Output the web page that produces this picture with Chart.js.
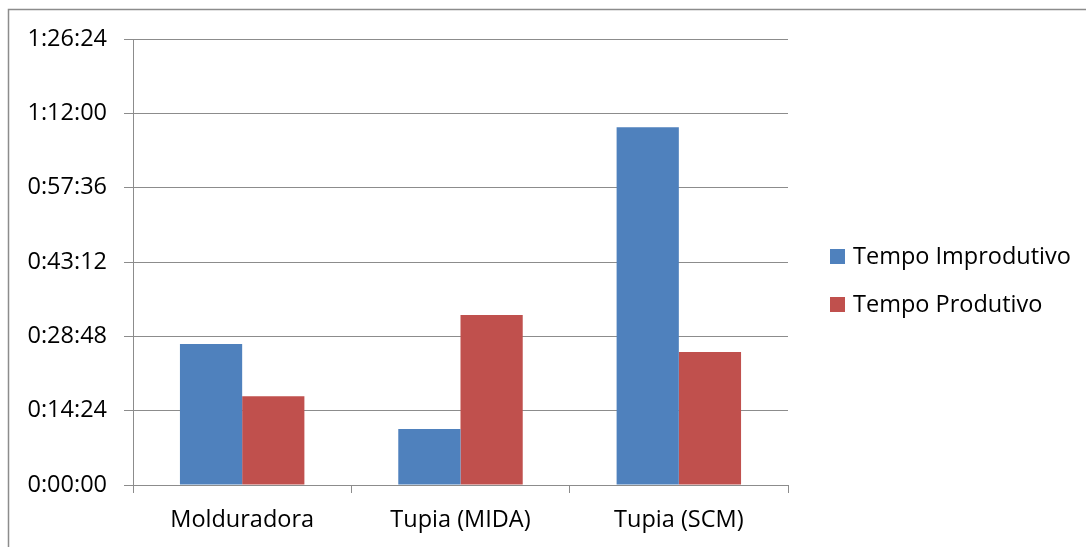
<!DOCTYPE html>
<html>
<head>
<meta charset="utf-8">
<style>
  html, body { margin: 0; padding: 0; background: #fff; }
  #wrap { width: 1086px; height: 547px; position: relative; }
</style>
<script src="https://cdn.jsdelivr.net/npm/chart.js@4/dist/chart.umd.min.js"></script>
</head>
<body>
<div id="wrap"><canvas id="c" width="1086" height="547"></canvas></div>
<script>
// Machines compared
const categories = ['Molduradora', 'Tupia (MIDA)', 'Tupia (SCM)'];
// Durations in seconds
const tempoImprodutivo = [1640, 651, 4158];
const tempoProdutivo = [1031, 1976, 1546];
const seriesNames = ['Tempo Improdutivo', 'Tempo Produtivo'];
// Axis: 0:00:00 to 1:26:24 in steps of 0:14:24
const yMax = 5184;
const yStep = 864;

const FONT = '"Open Sans", Lato, "DejaVu Sans", sans-serif';
const FONT_SIZE = 23.5;

function hms(sec) {
  const h = Math.floor(sec / 3600);
  const m = Math.floor((sec % 3600) / 60);
  const s = Math.round(sec % 60);
  return h + ':' + String(m).padStart(2, '0') + ':' + String(s).padStart(2, '0');
}

// Outer frame around the chart
const framePlugin = {
  id: 'frame',
  beforeDraw(chart) {
    const ctx = chart.ctx;
    ctx.save();
    ctx.fillStyle = '#fff';
    ctx.fillRect(0, 0, chart.width, chart.height);
    ctx.strokeStyle = '#8c8c8c';
    ctx.lineWidth = 1.5;
    ctx.strokeRect(8.5, 9.5, 1200, 1200);
    ctx.restore();
  }
};

// Legend drawn at the right of the plot
const sideLegend = {
  id: 'sideLegend',
  afterDraw(chart) {
    const ctx = chart.ctx;
    ctx.save();
    ctx.font = FONT_SIZE + 'px ' + FONT;
    ctx.textBaseline = 'middle';
    chart.data.datasets.forEach((ds, i) => {
      const y = 256 + i * 48;
      ctx.fillStyle = ds.backgroundColor;
      ctx.fillRect(830, y - 7, 15, 15);
      ctx.fillStyle = '#000';
      ctx.fillText(ds.label, 853, y + 1);
    });
    ctx.restore();
  }
};

new Chart(document.getElementById('c'), {
  type: 'bar',
  data: {
    labels: categories,
    datasets: [
      { label: seriesNames[0], data: tempoImprodutivo, backgroundColor: '#4F81BD' },
      { label: seriesNames[1], data: tempoProdutivo, backgroundColor: '#C0504D' }
    ]
  },
  options: {
    responsive: false,
    animation: false,
    devicePixelRatio: 1,
    layout: { padding: { left: 0, top: 39, right: 298, bottom: 0 } },
    datasets: { bar: { categoryPercentage: 0.57, barPercentage: 1.0 } },
    plugins: {
      legend: { display: false },
      tooltip: { enabled: false }
    },
    scales: {
      x: {
        grid: { offset: true, drawOnChartArea: false, drawTicks: true, tickLength: 8, color: '#8c8c8c', lineWidth: 1 },
        border: { color: '#8c8c8c', width: 1 },
        ticks: { color: '#000', font: { family: FONT, size: FONT_SIZE }, padding: 13, maxRotation: 0 },
        afterFit(scale) { scale.height = 62; }
      },
      y: {
        min: 0,
        max: yMax,
        grid: { color: '#8c8c8c', lineWidth: 1, drawTicks: true, tickLength: 9 },
        border: { color: '#8c8c8c', width: 1 },
        ticks: {
          stepSize: yStep,
          color: '#000',
          font: { family: FONT, size: FONT_SIZE },
          padding: 17,
          callback: (v) => hms(v)
        },
        afterFit(scale) { scale.width = 133; }
      }
    }
  },
  plugins: [framePlugin, sideLegend]
});
</script>
</body>
</html>
